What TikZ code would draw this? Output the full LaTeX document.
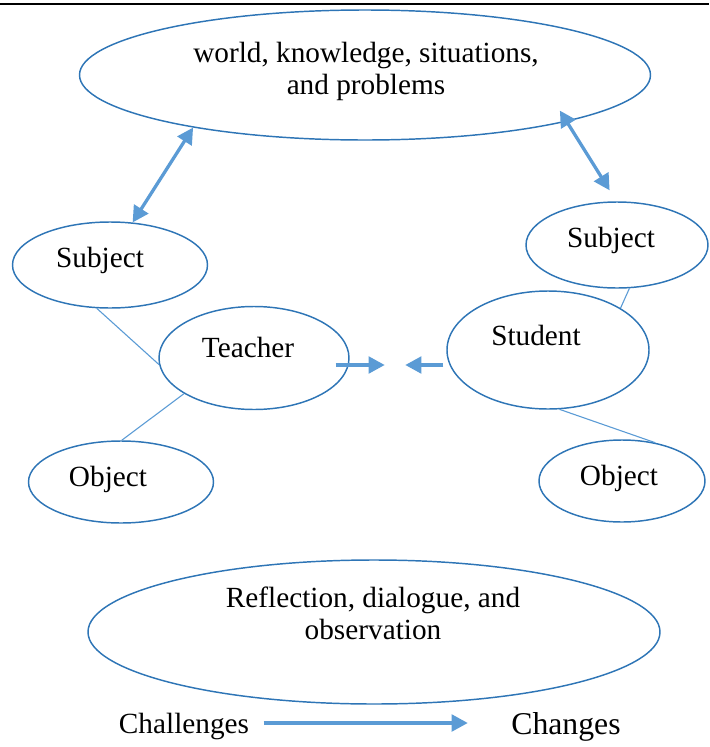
\documentclass[tikz,border=0pt]{standalone}
\usepackage{fontspec}
\setmainfont{Liberation Serif}
\usetikzlibrary{shapes.geometric,arrows.meta}

\definecolor{rimblue}{RGB}{46,117,182}
\definecolor{arrblue}{RGB}{91,155,213}

\begin{document}
\begin{tikzpicture}[x=0.41pt,y=-0.41pt,
	oval/.style 2 args={ellipse,draw=rimblue,line width=0.6pt,inner sep=0pt,
		minimum width=#1*0.41pt,minimum height=#2*0.41pt},
	txt/.style={font=\fontsize{12}{13.1}\selectfont,align=center},
	link/.style={draw=arrblue,line width=0.45pt},
	arr/.style={draw=arrblue,line width=1.35pt,-{Triangle[length=6.6pt,width=6.8pt]}},
	dbl/.style={draw=arrblue,line width=1.35pt,
		{Triangle[length=6.6pt,width=6.8pt]}-{Triangle[length=6.6pt,width=6.8pt]}}]
	\useasboundingbox (0,0) rectangle (709,747);
	\draw[line width=0.82pt] (0,4) -- (709,4);
	% ellipses
	\node[oval={571}{130}] (world) at (365,75) {};
	\node[txt] (worldtxt) at (366,71) {world, knowledge, situations,\\and problems};
	\node[oval={195}{86}] (subjL) at (110,265) {};
	\node[txt] (subjLtxt) at (100,260) {Subject};
	\node[oval={190}{103}] (teacher) at (254,358) {};
	\node[txt] (teachertxt) at (248,347) {Teacher};
	\node[oval={185}{82}] (objL) at (121,482) {};
	\node[txt] (objLtxt) at (108,479) {Object};
	\node[oval={182}{86}] (subjR) at (617,245) {};
	\node[txt] (subjRtxt) at (611,240) {Subject};
	\node[oval={202}{118}] (student) at (548,350) {};
	\node[txt] (studenttxt) at (536,335) {Student};
	\node[oval={166}{82}] (objR) at (622,481) {};
	\node[txt] (objRtxt) at (619,478) {Object};
	\node[oval={572}{144}] (refl) at (374,632) {};
	\node[txt] (refltxt) at (373,613) {Reflection, dialogue, and\\observation};
	% connectors
	\draw[dbl] (world.197) -- (subjL.62);
	\draw[dbl] ([shift={(-7,-11)}]world.347) -- ([shift={(-2,-11)}]subjR.97);
	\draw[link] (subjL.253) -- (teacher.184);
	\draw[link] (teacher.207) -- (objL.89);
	\draw[link] (subjR.286) -- (student.30);
	\draw[link] (student.281) -- (objR.49);
	\draw[arr] ([shift={(-14,7)}]teacher.east) -- +(49,0);
	\draw[arr] ([shift={(-3,15)}]student.west) -- +(-38,0);
	% bottom line
	\node[font=\fontsize{12}{14}\selectfont] (chal) at (184,726) {Challenges};
	\node[font=\fontsize{13}{15}\selectfont] (chg) at (566,727) {Changes};
	\draw[arr] ([shift={(6,-3)}]chal.east) -- ([shift={(-35,-4)}]chg.west);
\end{tikzpicture}
\end{document}
